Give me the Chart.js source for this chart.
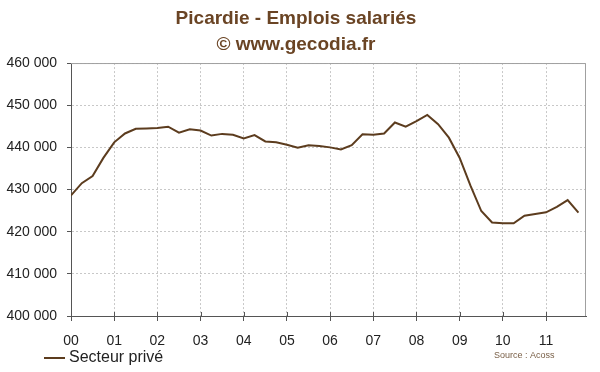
<!DOCTYPE html>
<html>
<head>
<meta charset="utf-8">
<script src="https://cdn.jsdelivr.net/npm/chart.js@4"></script>
<style>
  html, body { margin: 0; padding: 0; background: #fff; }
  #wrap { width: 600px; height: 372px; }
</style>
</head>
<body>
<div id="wrap"><canvas id="emploi-chart" width="600" height="372"></canvas></div>
<script>
const emploiCanvas = document.getElementById("emploi-chart");

// trimestres 2000 T1 -> 2011 T4
const quarters = [];
for (let y = 2000; y <= 2011; y++) {
    for (let q = 1; q <= 4; q++) quarters.push(y + "T" + q);
}

// effectifs salariés, secteur privé
const secteurPrive = [
    428600, 431500, 433200, 437500,
    441200, 443300, 444400, 444500,
    444600, 444900, 443500, 444300,
    444000, 442800, 443200, 443000,
    442100, 442900, 441400, 441200,
    440600, 439900, 440500, 440300,
    440000, 439500, 440500, 443100,
    443000, 443300, 445900, 444900,
    446200, 447700, 445500, 442300,
    437500, 430900, 424900, 422200,
    422000, 422000, 423800, 424200,
    424600, 425900, 427500, 424500
];

const yearLabels = ["00", "01", "02", "03", "04", "05", "06", "07", "08", "09", "10", "11"];
const yTicks = [400000, 410000, 420000, 430000, 440000, 450000, 460000];

const lineColor = '#5c3c1e';
const brown = '#6a4424';
const font = '"Liberation Sans", Arial, sans-serif';

const fmt = v => Math.round(v / 1000) + ' 000';

// cadre, petits traits internes, légende et source
const extras = {
    id: 'extras',
    beforeDatasetsDraw(chart) {
        const {ctx, chartArea: a, scales} = chart;
        ctx.save();
        ctx.strokeStyle = '#a0a0a0';
        ctx.lineWidth = 1;
        ctx.beginPath();
        ctx.moveTo(a.left, a.top + 0.5);
        ctx.lineTo(a.right - 0.5, a.top + 0.5);
        ctx.lineTo(a.right - 0.5, a.bottom);
        ctx.stroke();
        // ticks crossing the x axis
        ctx.strokeStyle = '#555';
        ctx.beginPath();
        scales.x.ticks.forEach(t => {
            const px = Math.round(scales.x.getPixelForValue(t.value)) + 0.5;
            ctx.moveTo(px, a.bottom);
            ctx.lineTo(px, a.bottom - 4);
        });
        ctx.stroke();
        ctx.restore();
    },
    afterDraw(chart) {
        const ctx = chart.ctx;
        ctx.save();
        ctx.strokeStyle = lineColor;
        ctx.lineWidth = 2;
        ctx.beginPath();
        ctx.moveTo(44, 358);
        ctx.lineTo(65, 358);
        ctx.stroke();
        ctx.fillStyle = '#222';
        ctx.font = '16px ' + font;
        ctx.textBaseline = 'middle';
        ctx.fillText('Secteur privé', 69, 358);
        ctx.fillStyle = '#7a6048';
        ctx.font = '9px ' + font;
        ctx.fillText('Source : Acoss', 494, 356);
        ctx.restore();
    }
};

const emploiData = {
    datasets: [{
        label: 'Secteur privé',
        data: secteurPrive.map((v, i) => ({x: i, y: v})),
        borderColor: lineColor,
        borderWidth: 2,
        pointRadius: 0,
        tension: 0,
        fill: false
    }]
};

const emploiOptions = {
    responsive: false,
    animation: false,
    layout: { padding: { left: 6, right: 14, top: 0, bottom: 0 } },
    scales: {
        x: {
            type: 'linear',
            min: 0,
            max: 47.7,
            afterBuildTicks: s => { s.ticks = yearLabels.map((_, i) => ({value: i * 4})); },
            afterFit: s => { s.height = 56; },
            grid: {
                color: '#c8c8c8',
                tickColor: '#555',
                tickBorderDash: [],
                tickLength: 5
            },
            border: { color: '#555', width: 1, dash: [2, 2] },
            ticks: {
                padding: 12,
                maxRotation: 0,
                autoSkip: false,
                color: '#222',
                font: { family: font, size: 14 },
                callback: v => yearLabels[v / 4]
            }
        },
        y: {
            min: 400000,
            max: 460000,
            afterBuildTicks: s => { s.ticks = yTicks.map(v => ({value: v})); },
            afterFit: s => { s.width = 65; },
            grid: {
                color: '#c8c8c8',
                tickColor: '#555',
                tickBorderDash: [],
                tickLength: 4
            },
            border: { color: '#555', width: 1, dash: [2, 2] },
            ticks: {
                padding: 10,
                color: '#222',
                font: { family: font, size: 14 },
                callback: v => fmt(v)
            }
        }
    },
    plugins: {
        legend: { display: false },
        tooltip: { enabled: false },
        title: {
            display: true,
            text: ['Picardie - Emplois salariés', '© www.gecodia.fr'],
            color: brown,
            font: { family: font, size: 19, weight: 'bold', lineHeight: 1.37 },
            padding: { top: 6, bottom: 5 }
        }
    }
};

const emploiChart = new Chart(emploiCanvas, {
    type: 'line',
    data: emploiData,
    options: emploiOptions,
    plugins: [extras]
});
</script>
</body>
</html>
